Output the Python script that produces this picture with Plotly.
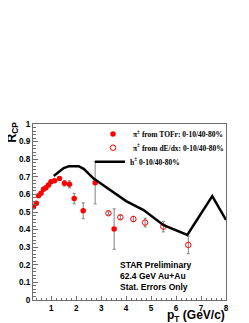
import plotly.graph_objects as go

# pi+- from TOFr: 0-10/40-80%
tofr_pt = [0.29, 0.40, 0.49, 0.59, 0.69, 0.79, 0.89, 0.99, 1.13, 1.33, 1.53, 1.73, 1.92, 2.28, 2.76, 3.52]
tofr_rcp = [0.530, 0.550, 0.593, 0.606, 0.629, 0.638, 0.653, 0.672, 0.678, 0.691, 0.663, 0.657, 0.576, 0.507, 0.666, 0.403]
tofr_err = [0.008, 0.008, 0.008, 0.008, 0.008, 0.008, 0.008, 0.008, 0.008, 0.008, 0.015, 0.02, 0.03, 0.045, 0.12, 0.115]

# pi+- from dE/dx: 0-10/40-80%
dedx_pt = [3.29, 3.77, 4.29, 4.76, 5.49, 6.49]
dedx_rcp = [0.493, 0.470, 0.460, 0.440, 0.417, 0.313]
dedx_err = [0.008, 0.010, 0.015, 0.025, 0.030, 0.050]

# h+- 0-10/40-80%
h_pt = [1.10, 1.30, 1.50, 1.70, 1.90, 2.10, 2.30, 2.50, 2.70, 3.00, 3.50, 3.80, 4.00, 4.70, 5.50, 6.45, 7.45, 8.00]
h_rcp = [0.705, 0.730, 0.750, 0.760, 0.762, 0.760, 0.745, 0.720, 0.690, 0.660, 0.610, 0.580, 0.562, 0.511, 0.425, 0.370, 0.590, 0.455]

x_ticks = [1, 2, 3, 4, 5, 6, 7, 8]
y_ticks = [0, 0.1, 0.2, 0.3, 0.4, 0.5, 0.6, 0.7, 0.8, 0.9, 1]
y_ticktext = ["0", "0.1", "0.2", "0.3", "0.4", "0.5", "0.6", "0.7", "0.8", "0.9", "1"]

# page body has an 8px default margin, so the figure is offset by 8px
OFF = 8
W, H = 249 - OFF, 323 - OFF
L, R, T, B = 33 - OFF, 23, 124 - OFF, 23
PW, PH = W - L - R, H - T - B


def px_x(p):
    return (p - OFF - L) / PW


def px_y(p):
    return (H - B - (p - OFF)) / PH


fig = go.Figure()
fig.add_trace(go.Scatter(
    x=tofr_pt, y=tofr_rcp, mode="markers", name="π<sup>±</sup> from TOFr: 0-10/40-80%",
    marker=dict(color="#ff0000", size=5.5, symbol="circle"),
    error_y=dict(type="data", array=tofr_err, color="#808080", thickness=1, width=1.5),
    legend="legend",
))
fig.add_trace(go.Scatter(
    x=dedx_pt, y=dedx_rcp, mode="markers", name="π<sup>±</sup> from dE/dx: 0-10/40-80%",
    marker=dict(color="#ff0000", size=5.5, symbol="circle-open", line=dict(width=1)),
    error_y=dict(type="data", array=dedx_err, color="#808080", thickness=1, width=1.5),
    legend="legend2",
))
fig.add_trace(go.Scatter(
    x=h_pt, y=h_rcp, mode="lines", name="h<sup>±</sup> 0-10/40-80%",
    line=dict(color="black", width=2.5),
    legend="legend3",
))

axis_font = dict(family="Liberation Sans", size=8.2, color="black", weight="bold")
leg_font = dict(family="Liberation Serif", size=7.5, color="black", weight="bold")
frame = "#6e6e6e"


def leg(px, py):
    return dict(x=px_x(px), y=px_y(py), xanchor="left", yanchor="middle",
                bgcolor="rgba(0,0,0,0)", borderwidth=0, font=leg_font, itemwidth=30)


fig.update_layout(
    width=W, height=H,
    margin=dict(l=L, r=R, t=T, b=B, pad=0, autoexpand=False),
    paper_bgcolor="white", plot_bgcolor="white",
    showlegend=True,
    legend=leg(93, 134), legend2=leg(93, 147.7), legend3=leg(90, 161.7),
    xaxis=dict(
        range=[0.27, 8], tickvals=x_ticks, ticks="inside", ticklen=4, tickwidth=1,
        tickcolor=frame, showgrid=False, zeroline=False,
        showline=True, linecolor=frame, linewidth=1, mirror=True,
        tickfont=axis_font,
        minor=dict(ticks="inside", dtick=0.2, ticklen=2, tickcolor=frame, showgrid=False),
    ),
    yaxis=dict(
        range=[0, 1], tickvals=y_ticks, ticktext=y_ticktext, ticks="inside", ticklen=5, tickwidth=1,
        tickcolor=frame, showgrid=False, zeroline=False,
        showline=True, linecolor=frame, linewidth=1, mirror=True,
        tickfont=axis_font,
        minor=dict(ticks="inside", dtick=0.02, ticklen=2.5, tickcolor=frame, showgrid=False),
    ),
    annotations=[
        dict(text="R<sub>CP</sub>", textangle=-90, xref="paper", yref="paper",
             x=px_x(12), y=px_y(120),
             xanchor="center", yanchor="top", showarrow=False,
             font=dict(family="Liberation Sans", size=12, color="black", weight="bold")),
        dict(text="p<sub>T</sub> (GeV/c)", xref="paper", yref="paper",
             x=px_x(227), y=px_y(305.5), xanchor="right", yanchor="top",
             showarrow=False,
             font=dict(family="Liberation Sans", size=12, color="black", weight="bold")),
        dict(text="STAR Preliminary<br>62.4 GeV Au+Au<br>Stat. Errors Only",
             xref="paper", yref="paper", x=px_x(118), y=px_y(258),
             xanchor="left", yanchor="top", align="left", showarrow=False,
             font=dict(family="Liberation Sans", size=8.5, color="black", weight="bold")),
    ],
)

fig.write_html("out.html")
